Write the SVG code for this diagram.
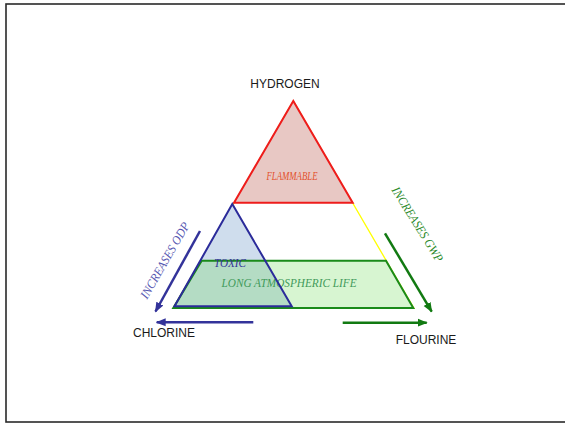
<svg xmlns="http://www.w3.org/2000/svg" width="565" height="423" viewBox="0 0 565 423">
<style>
.lbl{font-family:"Liberation Sans",Arial,sans-serif;font-size:12px;fill:#1a1a1a}
.it{font-family:"Liberation Serif","Times New Roman",serif;font-style:italic;font-size:11.5px}
.big{font-size:12.5px}
</style>
<defs>
<marker id="ab" viewBox="0 0 10 10" refX="9" refY="5" markerWidth="4" markerHeight="4" orient="auto" markerUnits="strokeWidth"><path d="M0,1 L10,5 L0,9 Z" fill="#33339a"/></marker>
<marker id="ag" viewBox="0 0 10 10" refX="9" refY="5" markerWidth="4" markerHeight="4" orient="auto" markerUnits="strokeWidth"><path d="M0,1 L10,5 L0,9 Z" fill="#127a12"/></marker>
</defs>
<rect x="0" y="0" width="565" height="423" fill="#fff"/>
<rect x="6" y="4" width="560" height="418" fill="none" stroke="#2a2a2a" stroke-width="1.6"/>
<g id="outline"><polygon points="293.3,101 173,308.3 414,308.3" fill="none" stroke="#ffff00" stroke-width="1.3"/></g>
<g id="flammable">
<polygon points="293.3,101 234,202.7 352.7,202.7" fill="#e8c8c4" stroke="#ee1c1c" stroke-width="2"/>
<text class="it" x="292" y="180" text-anchor="middle" fill="#e2502c" textLength="51" lengthAdjust="spacingAndGlyphs">FLAMMABLE</text>
</g>
<g id="toxic">
<polygon points="232.3,204 174.5,306.3 291.7,306.3" fill="#cfdded"/>
</g>
<g id="longlife">
<polygon points="201.7,260.7 386,260.7 413.3,308 173.3,308" fill="rgb(110,220,90)" fill-opacity="0.28" stroke="#1a8a1a" stroke-width="2"/>
<text class="it" x="289" y="287.3" text-anchor="middle" fill="#3f9a5a" textLength="135" lengthAdjust="spacingAndGlyphs">LONG ATMOSPHERIC LIFE</text>
</g>
<g id="toxic-outline">
<polygon points="232.3,204 174.5,306.3 291.7,306.3" fill="none" stroke="#2b2b9a" stroke-width="2"/>
<text class="it" x="230" y="266.7" text-anchor="middle" fill="#333399" textLength="32" lengthAdjust="spacingAndGlyphs">TOXIC</text>
</g>
<g id="hydrogen"><text class="lbl" x="285" y="87.7" text-anchor="middle">HYDROGEN</text></g>
<g id="chlorine"><text class="lbl" x="164" y="337.3" text-anchor="middle">CHLORINE</text></g>
<g id="flourine"><text class="lbl" x="426" y="344" text-anchor="middle">FLOURINE</text></g>
<g id="connectors">
<line x1="200" y1="231" x2="155.5" y2="311.5" stroke="#33339a" stroke-width="2.5" marker-end="url(#ab)"/>
<line x1="253.3" y1="322.3" x2="156.7" y2="322.3" stroke="#33339a" stroke-width="2.5" marker-end="url(#ab)"/>
<line x1="385" y1="233.3" x2="431.7" y2="311.7" stroke="#127a12" stroke-width="2.5" marker-end="url(#ag)"/>
<line x1="342.7" y1="322.7" x2="426.7" y2="322.7" stroke="#127a12" stroke-width="2.5" marker-end="url(#ag)"/>
<text class="it big" transform="translate(168.5,262.5) rotate(-60)" text-anchor="middle" fill="#5555b0" textLength="86" lengthAdjust="spacingAndGlyphs">INCREASES ODP</text>
<text class="it big" transform="translate(414,226.5) rotate(58)" text-anchor="middle" fill="#2a8a2a" textLength="86" lengthAdjust="spacingAndGlyphs">INCREASES GWP</text>
</g>
</svg>
